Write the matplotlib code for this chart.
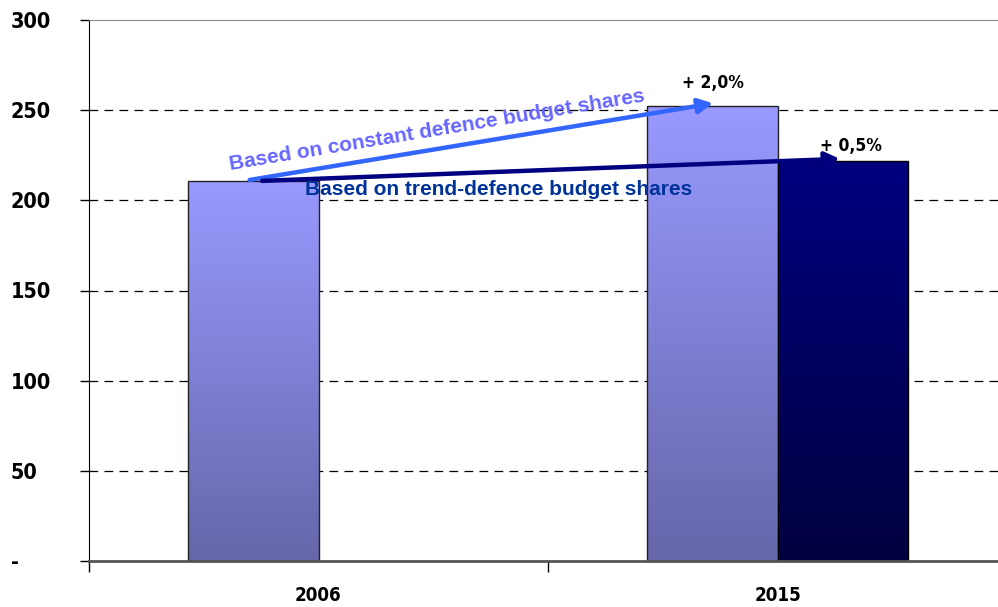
import os
import numpy as np
import matplotlib.pyplot as plt
from matplotlib import font_manager
from matplotlib.colors import LinearSegmentedColormap

# data
years = ["2006", "2015"]
constant_share = [210.7, 252.3]       # light bars
trend_share = [np.nan, 221.8]         # dark bars (no 2006 value)
growth_labels = ["+ 2,0%", "+ 0,5%"]
yticks = [0, 50, 100, 150, 200, 250, 300]
yticklabels = ["-", "50", "100", "150", "200", "250", "300"]

# look for a narrow bold font (Arial Narrow look-alike)
narrow_file = None
all_fonts = font_manager.findSystemFonts()
for pref in ["LiberationSansNarrow-Bold", "DejaVuSansCondensed-Bold"]:
    for f in all_fonts:
        if os.path.splitext(os.path.basename(f))[0] == pref:
            narrow_file = f
            break
    if narrow_file:
        break

def nfont(size):
    if narrow_file:
        return font_manager.FontProperties(fname=narrow_file, size=size)
    return font_manager.FontProperties(family="Liberation Sans", weight="bold", size=size)

arial = ["Liberation Sans", "DejaVu Sans"]

fig = plt.figure(figsize=(9.98, 6.07), dpi=100)
ax = fig.add_axes([89/998, 46/607, 918/998, 541/607])

x = np.arange(len(years))
w = 0.2854

light_cm = LinearSegmentedColormap.from_list("light", ["#6666AA", "#9999FF"])
dark_cm = LinearSegmentedColormap.from_list("dark", ["#00003F", "#000080"])
grad = np.linspace(0, 1, 256).reshape(-1, 1)

def gradient_bars(xs, vals, cmap, edge):
    bars = ax.bar(xs, vals, w, color="none", edgecolor=edge, lw=1, zorder=3)
    for b, v in zip(bars, vals):
        if np.isnan(v):
            continue
        x0 = b.get_x()
        im = ax.imshow(grad, extent=[x0, x0 + w, 0, v], origin="lower",
                       aspect="auto", cmap=cmap, zorder=2)
        im.set_clip_path(b)
    return bars

gradient_bars(x - w/2, constant_share, light_cm, "#222222")
gradient_bars(x + w/2, trend_share, dark_cm, "#000000")

ax.set_xlim(-0.5, 1.5)
ax.set_ylim(0, 300)

# grid
for yv in yticks[1:-1]:
    ax.axhline(yv, color="black", lw=0.9, ls=(0, (7, 5)), zorder=1)

ax.spines["right"].set_visible(False)
ax.spines["top"].set_color("#888888")
ax.spines["bottom"].set_color("#555555")
ax.spines["bottom"].set_linewidth(2)
ax.spines["bottom"].set_zorder(4)
ax.spines["left"].set_color("black")

ax.set_yticks(yticks)
ax.set_yticklabels(yticklabels)
ax.tick_params(axis="y", length=6.5, width=1, direction="out", pad=50)
for lab in ax.get_yticklabels():
    lab.set_fontproperties(nfont(15.5))
    lab.set_horizontalalignment("left")

ax.set_xticks(x)
ax.set_xticklabels(years)
for lab in ax.get_xticklabels():
    lab.set_fontproperties(nfont(13.5))
ax.tick_params(axis="x", length=0, pad=18)
ax.set_xticks([-0.5, 0.5, 1.5], minor=True)
ax.tick_params(axis="x", which="minor", length=8, width=1, direction="out")

# arrows
ax.annotate("", xy=(0.86, 253.8), xytext=(-0.15, constant_share[0] + 0.6),
            arrowprops=dict(arrowstyle="-|>", color="#3366FF", lw=3.2, mutation_scale=22,
                            shrinkA=0, shrinkB=0), zorder=6)
ax.annotate("", xy=(1.136, 223), xytext=(-0.123, constant_share[0] + 0.1),
            arrowprops=dict(arrowstyle="-|>", color="#000080", lw=3.2, mutation_scale=22,
                            shrinkA=0, shrinkB=0), zorder=6)

ax.text(0.258, 239, "Based on constant defence budget shares", color="#6666FF",
        fontfamily=arial, fontweight="bold", fontsize=15, rotation=9.4,
        rotation_mode="anchor", ha="center", va="center", zorder=7)
ax.text(0.392, 206, "Based on trend-defence budget shares", color="#003399",
        fontfamily=arial, fontweight="bold", fontsize=15,
        ha="center", va="center", zorder=7)

ax.text(0.859, 265, growth_labels[0], fontproperties=nfont(12.5),
        ha="center", va="center", zorder=7)
ax.text(1.160, 230, growth_labels[1], fontproperties=nfont(12.5),
        ha="center", va="center", zorder=7)

fig.savefig("out.png", dpi=100)
